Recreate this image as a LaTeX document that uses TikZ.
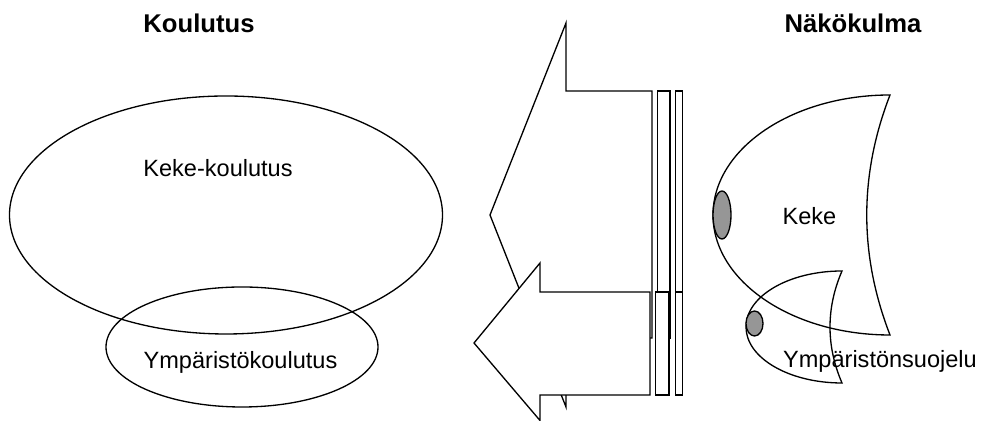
\documentclass[tikz,border=0pt]{standalone}
\usepackage{fontspec}
\setmainfont{Liberation Sans}
\usetikzlibrary{positioning}
\usetikzlibrary{calc}

\definecolor{blobgray}{RGB}{150,150,150}

\begin{document}
\begin{tikzpicture}[
    x=0.02cm, y=0.02cm,
    outline/.style={draw, line width=0.75pt},
    arrowbody/.style={outline, fill=white},
    blob/.style={outline, fill=blobgray},
    title/.style={anchor=base, inner sep=0pt, font=\fontsize{14.6}{17}\selectfont\bfseries},
    txt/.style={anchor=base, inner sep=0pt, font=\fontsize{13.4}{16}\selectfont}
]
\useasboundingbox (0,0) rectangle (984,421);

% Titles
\node[title] (koulutus) at (199,388) {Koulutus};
\node[title] (nakokulma) at (853,388) {Näkökulma};

% Left side: the two ellipses
\draw[outline] (226,206) ellipse [x radius=216.5, y radius=119];
\draw[outline] (242,74) ellipse [x radius=136, y radius=60];
\node[txt] (kekekoul) at (218,244) {Keke-koulutus};
\node[txt] (ympkoul) at (240.5,52) {Ympäristökoulutus};

% Middle: big striped arrow
\draw[arrowbody] (490,206) -- (566,398) -- (566,330) -- (652,330) -- (652,83)
    -- (566,83) -- (566,14) -- cycle;
\draw[arrowbody] (657.5,330) rectangle (670,83);
\draw[arrowbody] (675.5,330) rectangle (682.5,83);

% Middle: small striped arrow
\draw[arrowbody] (474,78) -- (540,158) -- (540,129) -- (650,129) -- (650,26)
    -- (540,26) -- (540,0.5) -- cycle;
\draw[arrowbody] (655.5,129) rectangle (669,26);
\draw[arrowbody] (675.5,129) rectangle (682.5,26);

% Right side: the two crescents
\draw[outline] (890,326) arc[start angle=90, end angle=270, x radius=177, y radius=120]
    .. controls (859,166) and (859,246) .. cycle;
\draw[outline] (842,150) arc[start angle=90, end angle=270, x radius=96, y radius=56]
    .. controls (826,75) and (826,113) .. cycle;
\draw[blob] (722,206) ellipse [x radius=9, y radius=24];
\draw[blob] (754.5,97.5) ellipse [x radius=8.5, y radius=12.5];
\node[txt] (keke) at (809.5,196) {Keke};
\node[txt] (ympsuoj) at (880,53) {Ympäristönsuojelu};

\end{tikzpicture}
\end{document}
